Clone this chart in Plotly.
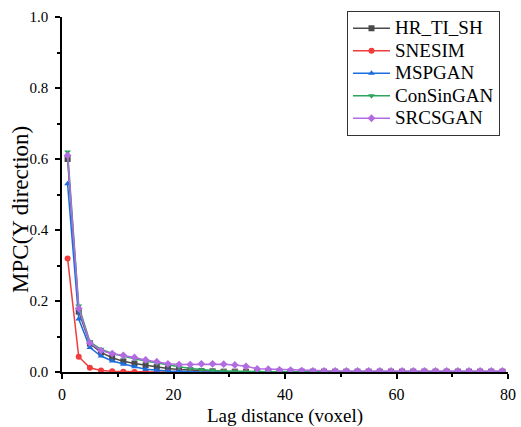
import plotly.graph_objects as go

lags = list(range(1, 80, 2))

hr_ti_sh = [0.60, 0.17, 0.080, 0.055, 0.040, 0.030, 0.024, 0.019, 0.014, 0.010,
            0.007, 0.005, 0.003, 0.002] + [0.001] * 26
snesim = [0.32, 0.043, 0.012, 0.004, 0.002, 0.001] + [0.0] * 34
mspgan = [0.53, 0.149, 0.069, 0.045, 0.031, 0.022, 0.015, 0.008, 0.005, 0.003,
          0.002] + [0.0] * 29
consingan = [0.62, 0.186, 0.085, 0.064, 0.052, 0.044, 0.037, 0.031, 0.025, 0.020,
             0.015, 0.010, 0.006, 0.004, 0.003, 0.002] + [0.001] * 24
srcsgan = [0.61, 0.179, 0.082, 0.060, 0.052, 0.047, 0.041, 0.034, 0.029, 0.023,
           0.021, 0.021, 0.023, 0.023, 0.022, 0.020, 0.016, 0.009, 0.008, 0.006,
           0.005, 0.004] + [0.003] * 18

series = [
    ("HR_TI_SH", hr_ti_sh, "#4a4a4a", "square"),
    ("SNESIM", snesim, "#f03c3c", "circle"),
    ("MSPGAN", mspgan, "#1c6ee0", "triangle-up"),
    ("ConSinGAN", consingan, "#2ea35e", "triangle-down"),
    ("SRCSGAN", srcsgan, "#b26be3", "diamond"),
]

fig = go.Figure()
for name, vals, color, sym in series:
    fig.add_trace(go.Scatter(
        x=lags, y=vals, name='<span style="font-size:19px">' + name + '</span>',
        mode="lines+markers",
        line=dict(color=color, width=1.5),
        marker=dict(symbol=sym, size=6, color=color),
    ))

font = "Times New Roman, Liberation Serif, DejaVu Serif, serif"
fig.update_layout(
    width=521, height=427,
    margin=dict(l=62, r=13, t=16, b=55),
    paper_bgcolor="white", plot_bgcolor="white",
    font=dict(family=font, size=15, color="black"),
    showlegend=True,
    legend=dict(
        x=0.639, y=1.014, xanchor="left", yanchor="top",
        bordercolor="#333333", borderwidth=1, bgcolor="white",
        font=dict(family=font, size=15, color="black"),
        tracegroupgap=0, itemwidth=37,
    ),
    annotations=[dict(
        text="MPC(Y direction)", textangle=-90,
        xref="paper", yref="paper", x=-0.093, y=0.458,
        xanchor="center", yanchor="middle", showarrow=False,
        font=dict(family=font, size=23, color="black"),
    )],
)
fig.update_xaxes(
    range=[0, 80], dtick=20, tick0=0, automargin=False, ticklabeloverflow="allow",
    showline=True, linecolor="black", linewidth=1.5,
    ticks="outside", ticklen=5, tickcolor="black", tickwidth=1.5,
    minor=dict(dtick=10, ticks="outside", ticklen=3, tickcolor="black"),
    showgrid=False, zeroline=False, ticklabelstandoff=2,
    title=dict(text="Lag distance (voxel)", font=dict(family=font, size=19), standoff=10),
    tickfont=dict(family=font, size=16),
)
fig.update_yaxes(
    range=[0, 1], dtick=0.2, tick0=0, tickformat=".1f", automargin=False,
    ticklabeloverflow="allow",
    showline=True, linecolor="black", linewidth=1.5,
    ticks="outside", ticklen=5, tickcolor="black", tickwidth=1.5,
    minor=dict(dtick=0.1, ticks="outside", ticklen=3, tickcolor="black"),
    showgrid=False, zeroline=False, ticklabelstandoff=4,
    tickfont=dict(family=font, size=15),
)

fig.write_html("out.html", config={"displayModeBar": False},
               post_script="document.body.style.margin='0';")
